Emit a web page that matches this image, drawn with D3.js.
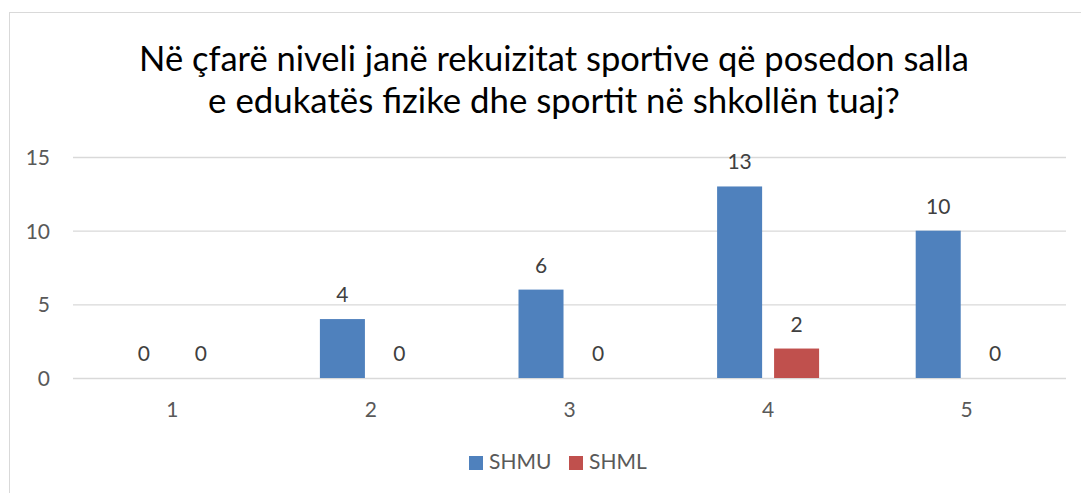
<!DOCTYPE html>
<html>
<head>
<meta charset="utf-8">
<script src="https://cdn.jsdelivr.net/npm/d3@7"></script>
<style>
  body { margin: 0; background: #fff; }
  svg { display: block; font-family: Lato, "Open Sans", sans-serif; }
</style>
</head>
<body>
<svg width="1081" height="493"></svg>
<script>
var categories = ["1", "2", "3", "4", "5"];
var seriesNames = ["SHMU", "SHML"];
var shmuValues = [0, 4, 6, 13, 10];
var shmlValues = [0, 0, 0, 2, 0];
var yTicks = [0, 5, 10, 15];
var titleLines = ["Në çfarë niveli janë rekuizitat sportive që posedon salla",
                  "e edukatës fizike dhe sportit në shkollën tuaj?"];
var colors = ["#4f81bd", "#c0504d"];

var svg = d3.select("svg");
var width = +svg.attr("width"),
    height = +svg.attr("height");

// chart area frame (runs off the right and bottom edge)
svg.append("rect")
  .attr("x", 9.5).attr("y", 12.5)
  .attr("width", 1200).attr("height", 600)
  .attr("fill", "#fff")
  .attr("stroke", "#d9d9d9");

// plot area edges (window.top is read-only, so no "top" here)
var plotLeft = 73, plotRight = 1066, plotTop = 157, plotBottom = 378;

var x = d3.scaleBand().domain(categories).range([plotLeft, plotRight]);
var y = d3.scaleLinear().domain([0, 15]).range([plotBottom, plotTop]);

// bars inside each category: two 45px bars, 12px apart
var inner = d3.scaleBand().domain(seriesNames)
  .range([-51, 51]).paddingInner(0.21);

// title, two lines, fitted to the width seen in the picture
var titleWidths = [830, 692];
var title = svg.append("g");
titleLines.forEach(function(line, i) {
  var t = title.append("text")
    .attr("x", 554)
    .attr("y", i == 0 ? 71 : 113)
    .attr("text-anchor", "middle")
    .attr("fill", "#000")
    .style("font-size", "31px")
    .text(line);
  var w = t.node().getComputedTextLength();
  t.style("font-size", (31 * titleWidths[i] / w) + "px");
});

// y axis with grid lines
var yAxis = svg.append("g")
  .attr("transform", "translate(" + plotLeft + ",0)")
  .call(d3.axisLeft(y).tickValues(yTicks).tickSize(-(plotRight - plotLeft)).tickPadding(23));
yAxis.select(".domain").remove();
yAxis.selectAll(".tick line").attr("stroke", "#d9d9d9").attr("stroke-width", 1.3);
yAxis.selectAll(".tick text")
  .attr("fill", "#595959")
  .style("font-size", "21px")
  .style("font-family", "Lato, sans-serif")
  .attr("dy", "0.35em");

// x axis labels
var xAxis = svg.append("g")
  .attr("transform", "translate(0," + plotBottom + ")")
  .call(d3.axisBottom(x).tickSize(0).tickPadding(0));
xAxis.select(".domain").remove();
xAxis.selectAll(".tick text")
  .attr("y", 39).attr("dy", 0)
  .attr("fill", "#595959")
  .style("font-size", "21px")
  .style("font-family", "Lato, sans-serif");

// bars
var seriesData = [shmuValues, shmlValues];
seriesData.forEach(function(values, s) {
  var g = svg.append("g");
  g.selectAll("rect")
    .data(values)
    .enter().append("rect")
    .attr("x", function(d, i) { return x(categories[i]) + x.bandwidth() / 2 + inner(seriesNames[s]); })
    .attr("y", function(d) { return y(d); })
    .attr("width", inner.bandwidth())
    .attr("height", function(d) { return y(0) - y(d); })
    .attr("fill", colors[s]);

  g.selectAll("text")
    .data(values)
    .enter().append("text")
    .attr("x", function(d, i) { return x(categories[i]) + x.bandwidth() / 2 + inner(seriesNames[s]) + inner.bandwidth() / 2; })
    .attr("y", function(d) { return y(d) - 17; })
    .attr("text-anchor", "middle")
    .attr("fill", "#404040")
    .style("font-size", "21px")
    .text(function(d) { return d; });
});

// legend
var legendX = [469, 569];
var legend = svg.append("g");
seriesNames.forEach(function(name, s) {
  legend.append("rect")
    .attr("x", legendX[s]).attr("y", 456)
    .attr("width", 14).attr("height", 14)
    .attr("fill", colors[s]);
  legend.append("text")
    .attr("x", legendX[s] + 20).attr("y", 469)
    .attr("fill", "#595959")
    .style("font-size", "21px")
    .text(name);
});
</script>
</body>
</html>
